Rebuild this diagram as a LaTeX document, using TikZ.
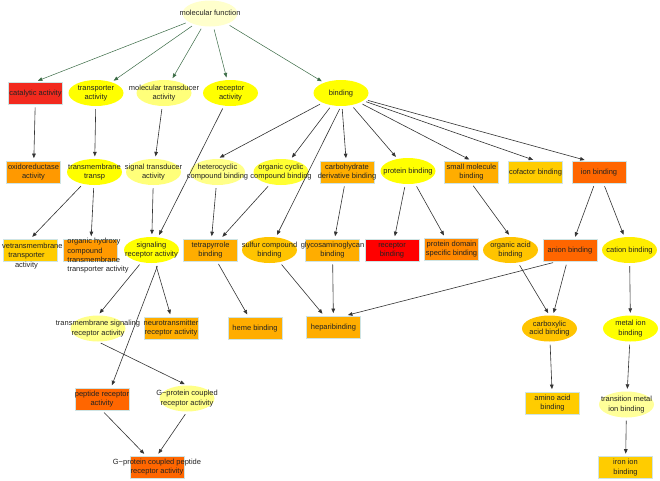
\documentclass[tikz,border=0pt]{standalone}
\usepackage{fontspec}
\setmainfont{Liberation Sans}
\usepackage{tikz}
\usetikzlibrary{shapes,arrows.meta}
\definecolor{mfpale}{HTML}{FFFFCC}
\definecolor{paleyel}{HTML}{FFFF7A}
\definecolor{paleyelb}{HTML}{FFFF88}
\definecolor{paleyelc}{HTML}{FFFF99}
\definecolor{yel}{HTML}{FFFF00}
\definecolor{yelb}{HTML}{FFFF33}
\definecolor{yelc}{HTML}{FFEE00}
\definecolor{goldell}{HTML}{FFC400}
\definecolor{gold}{HTML}{FFCC00}
\definecolor{orng}{HTML}{FFAD00}
\definecolor{orngb}{HTML}{FF9900}
\definecolor{orngc}{HTML}{FF8800}
\definecolor{dorng}{HTML}{FF6600}
\definecolor{gvred}{HTML}{F22A1E}
\definecolor{gvredb}{HTML}{FF0000}
\definecolor{boxline}{HTML}{CFE4E4}
\definecolor{gvtxt}{HTML}{222222}
\definecolor{gvedge}{HTML}{333333}
\definecolor{gvgreen}{HTML}{3A6B45}
\newcommand{\gvfont}{\fontsize{7.5}{9.3}\selectfont}
\newcommand{\gvtext}[2][c]{\makebox[0pt]{\raisebox{-1.9pt}[0pt][0pt]{\begin{tabular}[c]{@{}#1@{}}#2\end{tabular}}}}
\tikzstyle{gvell} = [ellipse, minimum width=55pt, minimum height=26pt, inner sep=0pt, font=\gvfont, text=gvtxt]
\tikzstyle{gvbox} = [rectangle, draw=boxline, line width=0.7pt, minimum width=54pt, minimum height=22pt, inner sep=0pt, font=\gvfont, text=gvtxt]
\tikzstyle{gvlabel} = [font=\gvfont, text=gvtxt, inner sep=0pt]
\tikzstyle{arrow} = [draw=gvedge, -{Triangle[length=4.5pt, width=3.6pt]}, line width=0.6pt, shorten >=2.5pt, shorten <=3pt]
\tikzstyle{toparrow} = [arrow, draw=gvgreen, line width=0.5pt]
\begin{document}
\begin{tikzpicture}[x=1pt, y=-1pt]
\fill[white] (0, 0) rectangle (660, 480);
\useasboundingbox (0, 0) rectangle (660, 480);

\node[gvell, fill=mfpale] at (210, 13.5) (molfunc) {\gvtext{molecular function}};

\begin{scope}[shift={(0,93)}]
\node[gvbox, fill=gvred] at (35.5, 0) (catalytic) {\gvtext{catalytic activity}};
\node[gvell, fill=yel] at (96, 0) (transporter) {\gvtext{transporter\\activity}};
\node[gvell, fill=paleyel] at (164, 0) (moltrans) {\gvtext{molecular transducer\\activity}};
\node[gvell, fill=yel] at (230.5, 0) (receptor) {\gvtext{receptor\\activity}};
\node[gvell, fill=yel] at (341, 0) (binding) {\gvtext{binding}};
\end{scope}

\begin{scope}[shift={(0,172)}]
\node[gvbox, fill=orngb] at (33.5, 0) (oxido) {\gvtext{oxidoreductase\\activity}};
\node[gvell, fill=yel] at (94.5, 0) (tmtransp) {\gvtext{transmembrane\\transp}};
\node[gvell, fill=paleyel] at (153.5, 0) (sigtrans) {\gvtext{signal transducer\\activity}};
\node[gvell, fill=paleyelb] at (217.5, 0) (hetero) {\gvtext{heterocyclic\\compound binding}};
\node[gvell, fill=yelb] at (281, 0) (orgcyclic) {\gvtext{organic cyclic\\compound binding}};
\node[gvbox, fill=orng] at (347, 0) (carbo) {\gvtext{carbohydrate\\derivative binding}};
\node[gvell, fill=yel] at (408, -1) (protein) {\gvtext{protein binding}};
\node[gvbox, fill=orng] at (471.5, 0) (smallmol) {\gvtext{small molecule\\binding}};
\node[gvbox, fill=gold] at (535.5, 0) (cofactor) {\gvtext{cofactor binding}};
\node[gvbox, fill=dorng] at (599, 0) (ion) {\gvtext{ion binding}};
\end{scope}

\begin{scope}[shift={(0,250)}]
\node[gvbox, fill=gold, label={[gvlabel, xshift=-4pt, yshift=-6pt]center:{\begin{tabular}{@{}c@{}}\phantom{acti}vetransmembrane\\transporter\\activity\end{tabular}}}] at (30.5, 0) (vetrans) {};
\node[gvbox, fill=orngb, label={[gvlabel, xshift=7.6pt, yshift=-6pt]center:{\begin{tabular}{@{}l@{}}organic hydroxy\\compound\\transmembrane\\transporter activity\end{tabular}}}] at (90.5, 0) (orghydroxy) {};
\node[gvell, fill=yel] at (151.5, 0) (signaling) {\gvtext{signaling\\receptor activity}};
\node[gvbox, fill=orng] at (210.5, 0) (tetra) {\gvtext{tetrapyrrole\\binding}};
\node[gvell, fill=goldell] at (269.5, 0) (sulfur) {\gvtext{sulfur compound\\binding}};
\node[gvbox, fill=orng] at (332.5, 0) (glyco) {\gvtext{glycosaminoglycan\\binding}};
\node[gvbox, fill=gvredb] at (392, 0) (recbinding) {\gvtext{receptor\\binding}};
\node[gvbox, fill=orngc] at (451.5, -1) (protdomain) {\gvtext{protein domain\\specific binding}};
\node[gvell, fill=goldell] at (510.5, 0) (orgacid) {\gvtext{organic acid\\binding}};
\node[gvbox, fill=dorng] at (570, 0.5) (anion) {\gvtext{anion binding}};
\node[gvell, fill=yelc] at (629.5, 0) (cation) {\gvtext{cation binding}};
\end{scope}

\begin{scope}[shift={(0,328)}]
\node[gvell, fill=paleyelb] at (98, 0.5) (tmsig) {\gvtext{transmembrane signaling\\receptor activity}};
\node[gvbox, fill=orng] at (171, 0) (neuro) {\gvtext{neurotransmitter\\receptor activity}};
\node[gvbox, fill=orng] at (255, 0) (heme) {\gvtext{heme binding}};
\node[gvbox, fill=orng] at (333.5, -1) (hepar) {\gvtext{heparibinding}};
\node[gvell, fill=goldell] at (549.5, 0.5) (carboxylic) {\renewcommand{\arraystretch}{0.72}\gvtext{carboxylic\\acid binding}};
\node[gvell, fill=yel] at (630.5, 0.5) (metalion) {\gvtext{metal ion\\binding}};
\end{scope}

\node[gvbox, fill=dorng] at (102, 399) (peptide) {\gvtext{peptide receptor\\activity}};
\node[gvell, fill=paleyelb] at (187, 398.5) (gpcr) {\gvtext{G−protein coupled\\receptor activity}};
\node[gvbox, fill=gold] at (552.5, 403) (amino) {\gvtext{amino acid\\binding}};
\node[gvell, fill=paleyelc] at (626.5, 404.5) (transition) {\gvtext{transition metal\\ion binding}};
\node[gvbox, fill=dorng] at (157, 467) (gpcrpep) {\gvtext{G−protein coupled peptide\\receptor activity}};
\node[gvbox, fill=gold] at (625.5, 467.5) (iron) {\gvtext{iron ion\\binding}};

\path[toparrow] (molfunc) -- (catalytic.north);
\path[toparrow] (molfunc) -- (transporter);
\path[toparrow] (molfunc) -- (moltrans);
\path[toparrow] (molfunc) -- (receptor);
\path[toparrow] (molfunc) -- (binding);

\path[arrow] (catalytic) -- (oxido);
\path[arrow] (transporter) -- (tmtransp);
\path[arrow] (moltrans) -- (sigtrans);
\path[arrow] (receptor) -- (signaling);
\path[arrow] (sigtrans) -- (signaling);
\path[arrow] (tmtransp) -- (vetrans.north);
\path[arrow] (tmtransp) -- (orghydroxy);
\path[arrow] (binding) -- (hetero.north);
\path[arrow] (binding) -- (orgcyclic);
\path[arrow] (binding.south) -- (sulfur);
\path[arrow] (binding) -- (carbo);
\path[arrow] (binding) -- (protein);
\path[arrow] (binding) -- (smallmol.north);
\path[arrow] (binding) -- (cofactor.north);
\path[arrow] (binding) -- ([xshift=-12pt]ion.north);
\path[arrow] (hetero) -- (tetra);
\path[arrow] (orgcyclic) -- (tetra);
\path[arrow] (carbo) -- (glyco);
\path[arrow] (protein) -- (recbinding);
\path[arrow] (protein) -- (protdomain);
\path[arrow] (smallmol.south) -- (orgacid.north);
\path[arrow] (ion) -- (anion);
\path[arrow] (ion) -- (cation);
\path[arrow] (signaling) -- (tmsig.north);
\path[arrow] ([xshift=7pt]signaling.south) -- ([xshift=9pt]peptide.north);
\path[arrow] (signaling) -- (neuro.north);
\path[arrow] (tetra) -- (heme);
\path[arrow] (sulfur) -- (hepar);
\path[arrow] (glyco) -- (hepar);
\path[arrow] ([xshift=-14pt]anion.south) -- ([xshift=12pt]hepar.north);
\path[arrow] (orgacid) -- (carboxylic.north);
\path[arrow] (anion) -- (carboxylic);
\path[arrow] (cation) -- (metalion);
\path[arrow] (carboxylic) -- (amino);
\path[arrow] (metalion) -- (transition);
\path[arrow] (transition) -- (iron);
\path[arrow] (tmsig.south) -- (gpcr.north);
\path[arrow] (peptide.south) -- (gpcrpep);
\path[arrow] (gpcr.south) -- (gpcrpep.north);
\end{tikzpicture}
\end{document}
